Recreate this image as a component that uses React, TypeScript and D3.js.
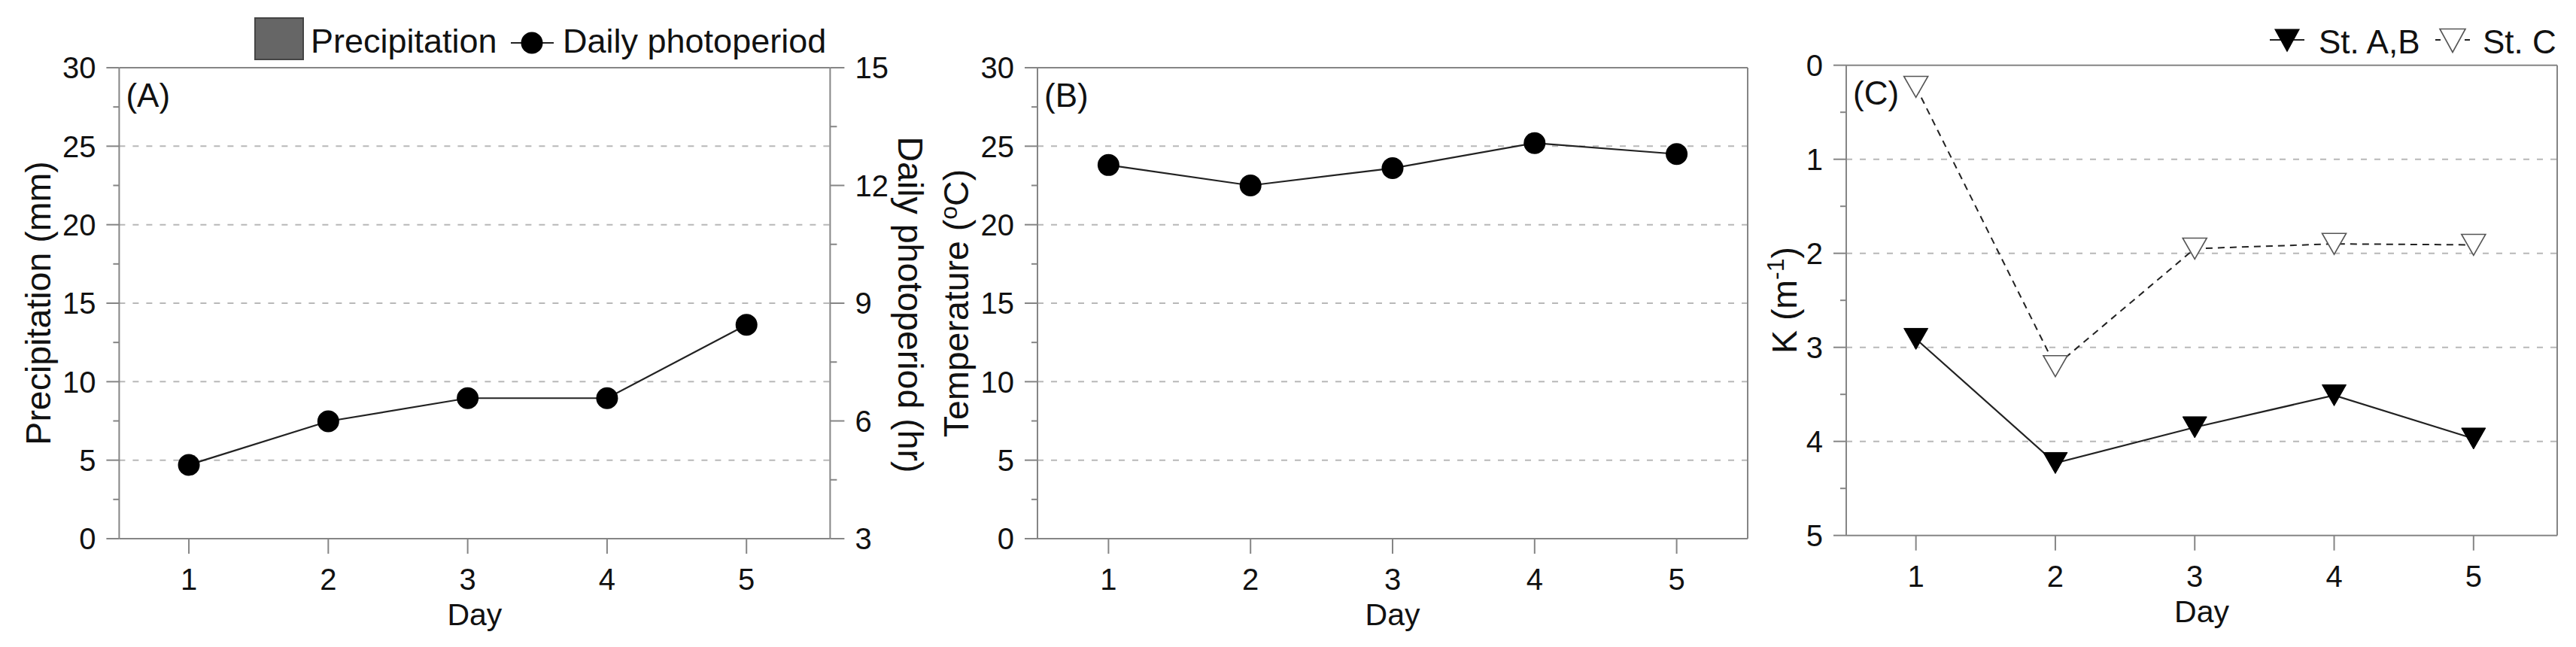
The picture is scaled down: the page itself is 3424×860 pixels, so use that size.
import React from 'react';
import * as d3 from 'd3';

// ---------- data ----------
const days = [1, 2, 3, 4, 5];
const precipitation = [0, 0, 0, 0, 0];
const photoperiod = [4.88, 5.99, 6.58, 6.58, 8.45];
const temperature = [23.8, 22.5, 23.6, 25.2, 24.5];
const kStAB = [2.91, 4.23, 3.85, 3.51, 3.97];
const kStC = [0.23, 3.2, 1.95, 1.9, 1.91];
const mmTicks = [0, 5, 10, 15, 20, 25, 30];
const hrTicks = [3, 6, 9, 12, 15];
const tempTicks = [0, 5, 10, 15, 20, 25, 30];
const kTicks = [0, 1, 2, 3, 4, 5];

// ---------- style ----------
const FONT = "'Liberation Sans', Arial, Helvetica, sans-serif";
const AXIS = '#858585';
const GRID = '#b8b8b8';
const TICK_FS = 40;
const TITLE_FS = 46.5;
const XTITLE_FS = 41;
const LEG_FS = 45;

function mids(t: number[]) {
  const out: number[] = [];
  for (let i = 0; i < t.length - 1; i++) out.push((t[i] + t[i + 1]) / 2);
  return out;
}

function downTri(cx: number, cy: number, w = 32, h = 28) {
  return `M${cx - w / 2},${cy - h / 2}L${cx + w / 2},${cy - h / 2}L${cx},${cy + h / 2}Z`;
}

type FrameProps = {
  x: d3.ScaleLinear<number, number>;
  y: d3.ScaleLinear<number, number>;
  ticks: number[];
  grid: number[];
  label: string;
};

function Frame({ x, y, ticks, grid, label }: FrameProps) {
  const [x0, x1] = x.range();
  const yr = y.range();
  const yTop = Math.min(yr[0], yr[1]);
  const yBot = Math.max(yr[0], yr[1]);
  return (
    <g>
      {grid.map((g) => (
        <line key={'g' + g} x1={x0} x2={x1} y1={y(g)} y2={y(g)} stroke={GRID} strokeWidth={2} strokeDasharray="8,10" />
      ))}
      {/* box */}
      <line x1={x0} x2={x1} y1={yTop} y2={yTop} stroke={AXIS} strokeWidth={2} />
      <line x1={x0} x2={x1} y1={yBot} y2={yBot} stroke={AXIS} strokeWidth={2} />
      <line x1={x0} x2={x0} y1={yTop} y2={yBot} stroke={AXIS} strokeWidth={2} />
      <line x1={x1} x2={x1} y1={yTop} y2={yBot} stroke={AXIS} strokeWidth={2} />
      {/* left ticks */}
      {ticks.map((t) => (
        <g key={'t' + t}>
          <line x1={x0 - 17} x2={x0} y1={y(t)} y2={y(t)} stroke={AXIS} strokeWidth={2} />
          <text x={x0 - 31} y={y(t)} dy="0.36em" textAnchor="end" fontSize={TICK_FS} fill="#111">{t}</text>
        </g>
      ))}
      {mids(ticks).map((t) => (
        <line key={'m' + t} x1={x0 - 8} x2={x0} y1={y(t)} y2={y(t)} stroke={AXIS} strokeWidth={2} />
      ))}
      {/* x ticks */}
      {days.map((d) => (
        <g key={'x' + d}>
          <line x1={x(d)} x2={x(d)} y1={yBot} y2={yBot + 20} stroke={AXIS} strokeWidth={2} />
          <text x={x(d)} y={yBot + 68} textAnchor="middle" fontSize={TICK_FS} fill="#111">{d}</text>
        </g>
      ))}
      <text x={(x0 + x1) / 2} y={yBot + 115} textAnchor="middle" fontSize={XTITLE_FS} fill="#111">Day</text>
      <text x={x0 + 9} y={yTop + 52} fontSize={44} fill="#111">{label}</text>
    </g>
  );
}

export default function App() {
  // Panel A
  const xA = d3.scaleLinear().domain([0.5, 5.6]).range([158.4, 1103.4]);
  const yA = d3.scaleLinear().domain([0, 30]).range([716, 90]);
  const yA2 = d3.scaleLinear().domain([3, 15]).range([716, 90]);
  // Panel B
  const xB = d3.scaleLinear().domain([0.5, 5.5]).range([1379, 2323]);
  const yB = d3.scaleLinear().domain([0, 30]).range([716, 90]);
  // Panel C
  const xC = d3.scaleLinear().domain([0.5, 5.6]).range([2454, 3399]);
  const yC = d3.scaleLinear().domain([0, 5]).range([86.7, 711.7]);

  const lineA = d3.line<number>().x((_, i) => xA(days[i])).y((v) => yA2(v));
  const lineB = d3.line<number>().x((_, i) => xB(days[i])).y((v) => yB(v));
  const lineC = d3.line<number>().x((_, i) => xC(days[i])).y((v) => yC(v));

  const barW = 60;
  const xA1 = xA.range()[1];

  return (
    <svg
      width={3424}
      height={860}
      viewBox="0 0 3424 860"
      style={{ position: 'absolute', left: 0, top: 0, background: '#fff' }}
      fontFamily={FONT}
    >
      <rect x={0} y={0} width={3424} height={860} fill="#fff" />

      {/* ===== Panel A ===== */}
      <Frame x={xA} y={yA} ticks={mmTicks} grid={[5, 10, 15, 20, 25]} label="(A)" />
      {/* right axis ticks */}
      {hrTicks.map((t) => (
        <g key={'r' + t}>
          <line x1={xA1} x2={xA1 + 19} y1={yA2(t)} y2={yA2(t)} stroke={AXIS} strokeWidth={2} />
          <text x={xA1 + 33} y={yA2(t)} dy="0.36em" textAnchor="start" fontSize={TICK_FS} fill="#111">{t}</text>
        </g>
      ))}
      {mids(hrTicks).map((t) => (
        <line key={'rm' + t} x1={xA1} x2={xA1 + 9} y1={yA2(t)} y2={yA2(t)} stroke={AXIS} strokeWidth={2} />
      ))}
      {/* precipitation bars */}
      {precipitation.map((p, i) => (
        <rect key={'b' + i} x={xA(days[i]) - barW / 2} y={yA(p)} width={barW} height={yA(0) - yA(p)} fill="#666" stroke="#444" />
      ))}
      <path d={lineA(photoperiod) || ''} fill="none" stroke="#222" strokeWidth={2.2} />
      {photoperiod.map((v, i) => (
        <circle key={'pa' + i} cx={xA(days[i])} cy={yA2(v)} r={14.5} fill="#000" />
      ))}
      <text transform="translate(67,403) rotate(-90)" textAnchor="middle" fontSize={TITLE_FS} fill="#111">Precipitation (mm)</text>
      <text transform="translate(1194,405) rotate(90)" textAnchor="middle" fontSize={TITLE_FS} fill="#111">Daily photoperiod (hr)</text>
      {/* legend A */}
      <rect x={339} y={24} width={64} height={55} fill="#666" stroke="#444" strokeWidth={2} />
      <text x={413} y={70} fontSize={LEG_FS} fill="#111">Precipitation</text>
      <line x1={679} x2={736} y1={57} y2={57} stroke="#222" strokeWidth={2} />
      <circle cx={707} cy={57} r={14.5} fill="#000" />
      <text x={748} y={70} fontSize={LEG_FS} fill="#111">Daily photoperiod</text>

      {/* ===== Panel B ===== */}
      <Frame x={xB} y={yB} ticks={tempTicks} grid={[5, 10, 15, 20, 25]} label="(B)" />
      <path d={lineB(temperature) || ''} fill="none" stroke="#222" strokeWidth={2.2} />
      {temperature.map((v, i) => (
        <circle key={'tb' + i} cx={xB(days[i])} cy={yB(v)} r={14.5} fill="#000" />
      ))}
      <text transform="translate(1287,403) rotate(-90)" textAnchor="middle" fontSize={TITLE_FS} fill="#111">
        Temperature (<tspan fontSize={32} dy={-15}>o</tspan><tspan dy={15}>C)</tspan>
      </text>

      {/* ===== Panel C ===== */}
      <Frame x={xC} y={yC} ticks={kTicks} grid={[1, 2, 3, 4]} label="(C)" />
      <path d={lineC(kStC) || ''} fill="none" stroke="#222" strokeWidth={2} strokeDasharray="9,7" />
      <path d={lineC(kStAB) || ''} fill="none" stroke="#222" strokeWidth={2.2} />
      {kStC.map((v, i) => (
        <path key={'sc' + i} d={downTri(xC(days[i]), yC(v))} fill="#fff" stroke="#555" strokeWidth={1.6} />
      ))}
      {kStAB.map((v, i) => (
        <path key={'sab' + i} d={downTri(xC(days[i]), yC(v))} fill="#000" stroke="#000" strokeWidth={1} />
      ))}
      <text transform="translate(2388,399) rotate(-90)" textAnchor="middle" fontSize={TITLE_FS} fill="#111">
        K (m<tspan fontSize={32} dy={-17}>-1</tspan><tspan dy={17}>)</tspan>
      </text>
      {/* legend C */}
      <line x1={3017} x2={3063} y1={53} y2={53} stroke="#222" strokeWidth={2} />
      <path d={downTri(3040, 54, 34, 31)} fill="#000" />
      <text x={3082} y={71} fontSize={44} fill="#111">St. A,B</text>
      <line x1={3237} x2={3283} y1={53} y2={53} stroke="#222" strokeWidth={2} strokeDasharray="7,32" />
      <path d={downTri(3260, 54, 34, 31)} fill="#fff" stroke="#555" strokeWidth={1.6} />
      <text x={3300} y={71} fontSize={44} fill="#111">St. C</text>
    </svg>
  );
}
